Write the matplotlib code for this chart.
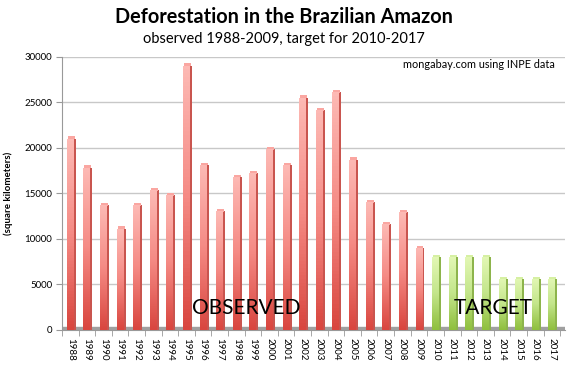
import matplotlib.pyplot as plt
import numpy as np
from matplotlib.colors import LinearSegmentedColormap

plt.rcParams['font.family'] = ['Lato', 'DejaVu Sans']

# data
observed_years = list(range(1988, 2010))
observed_km2 = [21000, 17800, 13700, 11100, 13700, 15300, 14800, 29000, 18100, 13000,
                16800, 17200, 19800, 18100, 25500, 24100, 26100, 18700, 14000, 11600,
                12900, 9000]
target_years = list(range(2010, 2018))
target_km2 = [8000, 8000, 8000, 8000, 5600, 5600, 5600, 5600]

years = observed_years + target_years
values = observed_km2 + target_km2

red_map = LinearSegmentedColormap.from_list('red', ['#d9463f', '#f58a84', '#fdb9b4'])
green_map = LinearSegmentedColormap.from_list('green', ['#8fbf3e', '#c3e58a', '#e2f7b4'])

fig = plt.figure(figsize=(5.68, 3.67), dpi=100)
ax = fig.add_axes([0.109, 0.101, 0.886, 0.745])

x = np.arange(len(years))
width = 0.42
ax.set_xlim(-0.5, 29.8)
ax.set_ylim(0, 30000)

# gray floor behind the bars
ax.axhspan(0, 300, color='#a0a0a0', zorder=1)

grad = np.linspace(0, 1, 64).reshape(-1, 1)
bars = ax.bar(x, values, width=width, color='none', zorder=3)
for i, bar in enumerate(bars):
    cmap = red_map if years[i] <= 2009 else green_map
    x0, h = bar.get_x(), bar.get_height()
    img = ax.imshow(grad, cmap=cmap, origin='lower', aspect='auto',
                    extent=[x0, x0 + width, 0, h], zorder=3)
    img.set_clip_path(bar)
    # side face for the 3d look
    side = '#c9554f' if years[i] <= 2009 else '#8db44c'
    ax.bar(x0 + width + 0.06, h, width=0.12, color=side, zorder=2)
    ax.bar(x0 + width / 2 + 0.06, 300, bottom=h - 50, width=width, color=cmap(0.8), zorder=2)

ax.set_yticks(range(0, 30001, 5000))
ax.set_yticklabels([str(v) for v in range(0, 30001, 5000)], fontsize=7)
ax.yaxis.grid(True, color='#c8c8c8', linewidth=1)
ax.set_axisbelow(True)
ax.tick_params(axis='y', length=4, color='#999999', pad=3)

ax.set_xticks(x)
ax.set_xticklabels([str(y) for y in years], rotation=-90, fontsize=7)
ax.tick_params(axis='x', length=0, pad=6)
ax.set_xticks(np.arange(-0.5, 30, 1), minor=True)
ax.tick_params(axis='x', which='minor', length=4, color='#999999')

for s in ['top', 'right']:
    ax.spines[s].set_visible(False)
ax.spines['left'].set_color('#999999')
ax.spines['bottom'].set_color('#999999')

ax.set_ylabel('(square kilometers)', fontsize=7, fontweight='bold', labelpad=8)

fig.text(0.5, 0.955, 'Deforestation in the Brazilian Amazon', ha='center', va='center',
         fontsize=14.3, fontweight='bold')
fig.text(0.5, 0.895, 'observed 1988-2009, target for 2010-2017', ha='center', va='center',
         fontsize=10.5)
fig.text(0.977, 0.825, 'mongabay.com using INPE data', ha='right', va='center', fontsize=7.8)

ax.text(10.6, 2400, 'OBSERVED', ha='center', va='center', fontsize=15, zorder=5)
ax.text(25.5, 2400, 'TARGET', ha='center', va='center', fontsize=15, zorder=5)

fig.savefig('out.png', dpi=100)
